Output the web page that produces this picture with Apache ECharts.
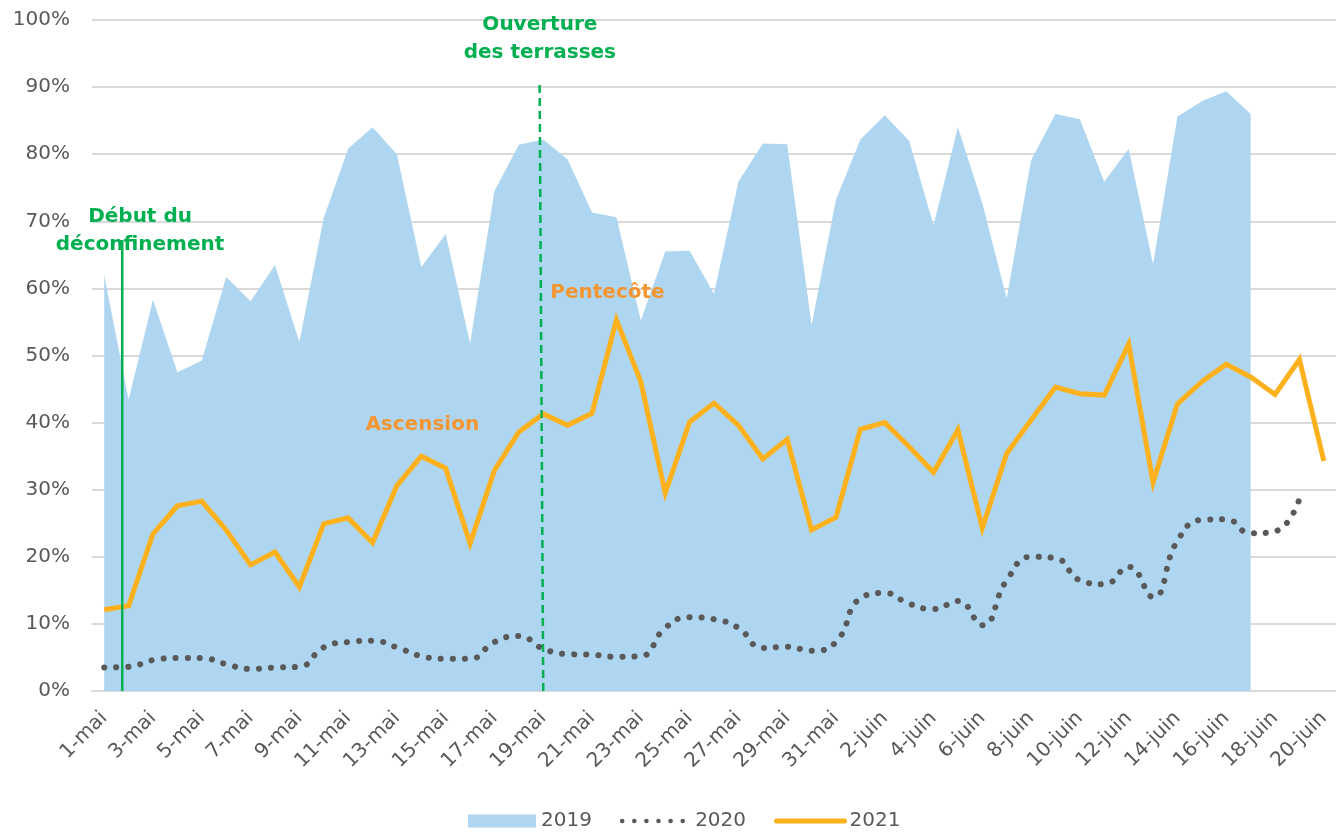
<!DOCTYPE html>
<html>
<head>
<meta charset="utf-8">
<script src="https://cdn.jsdelivr.net/npm/echarts@6/dist/echarts.min.js"></script>
<style>
  html, body { margin: 0; padding: 0; background: #fff; }
  #main { width: 1336px; height: 832px; }
</style>
</head>
<body>
<div id="main"></div>
<script>
// jours : 1-mai -> 20-juin
const jours = [];
for (let d = 1; d <= 31; d++) jours.push(d + '-mai');
for (let d = 1; d <= 20; d++) jours.push(d + '-juin');

// taux d'occupation (fraction)
const data2019 = [0.620, 0.434, 0.583, 0.475, 0.492, 0.617, 0.581, 0.635, 0.520, 0.705,
  0.808, 0.840, 0.800, 0.632, 0.681, 0.518, 0.745, 0.814, 0.822, 0.792,
  0.713, 0.706, 0.552, 0.655, 0.656, 0.592, 0.759, 0.816, 0.815, 0.545,
  0.732, 0.822, 0.858, 0.820, 0.694, 0.840, 0.727, 0.585, 0.791, 0.860,
  0.852, 0.759, 0.808, 0.636, 0.856, 0.879, 0.894, 0.860, null, null, null];

const data2020 = [0.035, 0.036, 0.046, 0.049, 0.049, 0.040, 0.033, 0.035, 0.036, 0.065,
  0.073, 0.075, 0.065, 0.052, 0.048, 0.048, 0.073, 0.082, 0.063, 0.055,
  0.054, 0.051, 0.052, 0.094, 0.110, 0.107, 0.094, 0.064, 0.066, 0.060,
  0.073, 0.138, 0.146, 0.130, 0.122, 0.134, 0.098, 0.165, 0.200, 0.198,
  0.165, 0.159, 0.185, 0.140, 0.224, 0.255, 0.256, 0.235, 0.238, 0.286, null];

const data2021 = [0.121, 0.127, 0.234, 0.276, 0.283, 0.240, 0.188, 0.207, 0.155, 0.249,
  0.258, 0.221, 0.306, 0.350, 0.332, 0.220, 0.329, 0.386, 0.413, 0.396,
  0.414, 0.553, 0.461, 0.295, 0.401, 0.429, 0.396, 0.346, 0.375, 0.240,
  0.259, 0.390, 0.400, 0.364, 0.326, 0.389, 0.243, 0.354, 0.404, 0.453,
  0.443, 0.441, 0.517, 0.311, 0.428, 0.461, 0.487, 0.468, 0.442, 0.494, 0.343];

// repères (index de jour fractionnaire, valeur)
const ligneDeconfinement = [[0.74, 0], [0.74, 0.672]];
const ligneTerrasses = [[18.0, 0], [17.85, 0.906]];
const annotations = [
  { name: 'Début du\ndéconfinement', value: [1.47, 0.686], color: '#00B050', align: 'center' },
  { name: 'Ouverture\ndes terrasses', value: [17.86, 0.972], color: '#00B050', align: 'center' },
  { name: 'Pentecôte', value: [18.27, 0.593], color: '#F39530', align: 'left' },
  { name: 'Ascension', value: [13.04, 0.396], color: '#F39530', align: 'center' }
];

const FONT = 'DejaVu Sans';
const GRIS = '#595959';
const BLEU = '#AED6F1';
const ORANGE = '#FDB11C';

const chart = echarts.init(document.getElementById('main'));
chart.setOption({
  animation: false,
  grid: { left: 92, top: 20, width: 1247, height: 671, containLabel: false },
  legend: {
    left: 468,
    top: 811,
    padding: 0,
    itemWidth: 68,
    itemHeight: 13,
    itemGap: 28,
    textStyle: { color: GRIS, fontFamily: FONT, fontSize: 20 },
    data: [
      { name: '2019', icon: 'rect', itemStyle: { color: BLEU, opacity: 1 } },
      { name: '2020', itemStyle: { opacity: 0 },
        lineStyle: { color: GRIS, width: 4.5, type: [0.1, 12], cap: 'round' } },
      { name: '2021', itemStyle: { opacity: 0 },
        lineStyle: { color: ORANGE, width: 5, cap: 'round' } }
    ]
  },
  xAxis: [{
    type: 'category',
    data: jours,
    boundaryGap: true,
    axisLine: { lineStyle: { color: '#D9D9D9', width: 2 } },
    axisTick: { interval: 1, length: 6, lineStyle: { color: '#D9D9D9', width: 2 } },
    axisLabel: {
      interval: 1, rotate: 45, margin: 24,
      color: GRIS, fontFamily: FONT, fontSize: 20
    }
  }, {
    type: 'value',
    min: -0.5,
    max: 50.5,
    show: false
  }],
  yAxis: {
    type: 'value',
    min: 0,
    max: 1,
    interval: 0.1,
    axisLine: { show: false },
    axisTick: { show: false },
    splitLine: { lineStyle: { color: '#D9D9D9', width: 2 } },
    axisLabel: {
      margin: 22, color: GRIS, fontFamily: FONT, fontSize: 20,
      formatter: v => Math.round(v * 100) + '%'
    }
  },
  series: [{
    name: '2019',
    type: 'line',
    data: data2019,
    symbol: 'none',
    color: BLEU,
    lineStyle: { width: 0 },
    areaStyle: { color: BLEU, opacity: 1 }
  }, {
    name: '2020',
    type: 'line',
    data: data2020,
    symbol: 'none',
    smooth: 0.5,
    color: GRIS,
    lineStyle: { width: 6, type: [0.1, 12], cap: 'round' }
  }, {
    name: '2021',
    type: 'line',
    data: data2021,
    symbol: 'none',
    color: ORANGE,
    lineStyle: { width: 5, join: 'miter' }
  }, {
    name: 'deconfinement',
    type: 'line',
    xAxisIndex: 1,
    z: 5,
    data: ligneDeconfinement,
    symbol: 'none',
    lineStyle: { color: '#00B050', width: 2.5 }
  }, {
    name: 'terrasses',
    type: 'line',
    xAxisIndex: 1,
    z: 5,
    data: ligneTerrasses,
    symbol: 'none',
    lineStyle: { color: '#00B050', width: 2.5, type: [8, 5] }
  }, {
    name: 'annotations',
    type: 'scatter',
    xAxisIndex: 1,
    z: 10,
    zlevel: 1,
    symbolSize: 1,
    itemStyle: { color: 'rgba(0,0,0,0)', opacity: 1 },
    labelLayout: { hideOverlap: false },
    data: annotations.map(a => ({
      name: a.name,
      value: a.value,
      label: {
        show: true,
        position: a.align === 'left' ? 'right' : 'inside',
        distance: 0,
        formatter: '{b}',
        color: a.color,
        opacity: 1,
        textBorderWidth: 0,
        fontFamily: FONT,
        fontWeight: 'bold',
        fontSize: 20,
        lineHeight: 28,
        align: a.align
      }
    }))
  }]
});
</script>
</body>
</html>
